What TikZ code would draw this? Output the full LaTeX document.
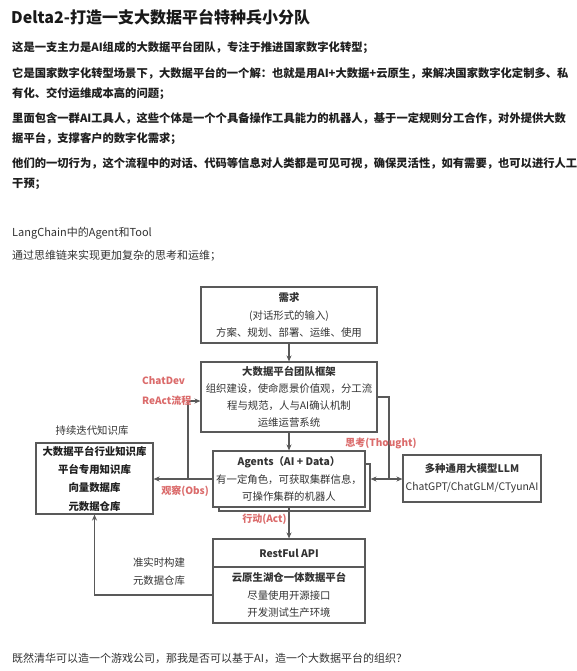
\documentclass[tikz,border=0pt]{standalone}
\usepackage{fontspec}
\setmainfont{Noto Sans CJK SC}
\usetikzlibrary{arrows.meta}
\definecolor{flowred}{HTML}{DB6B6B}
\definecolor{linegray}{HTML}{595959}
\definecolor{inkgray}{HTML}{333333}

\begin{document}
\begin{tikzpicture}[x=1pt,y=-1pt,
    line/.style={draw=linegray,line width=1.1pt},
    arr/.style={line,-{Stealth[length=6pt,width=5pt]}},
    box/.style={draw=linegray,line width=1.1pt,fill=white,inner sep=0pt,
      align=center,text=inkgray,font=\fontsize{10.4}{17.5}\selectfont},
    para/.style={anchor=west,inner sep=0pt,text=black!88,
      font=\fontsize{11.3}{13}\selectfont\bfseries},
    plain/.style={anchor=west,inner sep=0pt,text=inkgray,
      font=\fontsize{11}{13}\selectfont},
    tag/.style={inner sep=0pt,text=flowred,font=\fontsize{10}{12}\selectfont\bfseries},
    note/.style={inner sep=0pt,text=inkgray,font=\fontsize{10.4}{12}\selectfont}]
  \useasboundingbox[fill=white] (0,0) rectangle (576,671);

  % text above the diagram
  \node[para,font=\fontsize{16}{18}\selectfont\bfseries,text=black!90] (title) at (11,17)
    {Delta2-打造一支大数据平台特种兵小分队};
  \node[para] (p1) at (12,48) {这是一支主力是AI组成的大数据平台团队，专注于推进国家数字化转型；};
  \node[para] (p2a) at (12,73) {它是国家数字化转型场景下，大数据平台的一个解：也就是用AI+大数据+云原生，来解决国家数字化定制多、私};
  \node[para] (p2b) at (12,94) {有化、交付运维成本高的问题；};
  \node[para] (p3a) at (12,118) {里面包含一群AI工具人，这些个体是一个个具备操作工具能力的机器人，基于一定规则分工合作，对外提供大数};
  \node[para] (p3b) at (12,139) {据平台，支撑客户的数字化需求；};
  \node[para] (p4a) at (12,163) {他们的一切行为，这个流程中的对话、代码等信息对人类都是可见可视，确保灵活性，如有需要，也可以进行人工};
  \node[para] (p4b) at (12,184) {干预；};
  \node[plain] (lang) at (12,233) {LangChain中的Agent和Tool};
  \node[plain] (cot) at (12,256) {通过思维链来实现更加复杂的思考和运维；};

  % boxes
  \node[box,minimum width=176pt,minimum height=56pt] (need) at (289,315)
    {\textbf{需求}\\(对话形式的输入)\\方案、规划、部署、运维、使用};
  \node[box,minimum width=176pt,minimum height=70pt,font=\fontsize{10.4}{17}\selectfont] (frame) at (289,397)
    {\textbf{大数据平台团队框架}\\组织建设，使命愿景价值观，分工流\\程与规范，人与AI确认机制\\运维运营系统};
  \node[box,minimum width=151pt,minimum height=47pt] (shadow) at (294.5,487.5) {};
  \node[box,minimum width=152pt,minimum height=56pt] (agents) at (289,479)
    {\textbf{Agents（AI + Data）}\\有一定角色，可获取集群信息，\\可操作集群的机器人};
  \node[box,minimum width=138pt,minimum height=47pt,font=\fontsize{10.4}{18}\selectfont] (llm) at (472,478.5)
    {\textbf{多种通用大模型LLM}\\ChatGPT/ChatGLM/CTyunAI};
  \node[box,minimum width=117pt,minimum height=71pt,font=\fontsize{10.4}{18.3}\selectfont\bfseries,text=black!88] (kb) at (94.5,478.5)
    {大数据平台行业知识库\\平台专用知识库\\向量数据库\\元数据仓库};
  \node[box,minimum width=152pt,minimum height=28pt] (api) at (289,553) {\textbf{RestFul API}};
  \node[box,minimum width=152pt,minimum height=56pt] (platform) at (289,595)
    {\textbf{云原生湖仓一体数据平台}\\尽量使用开源接口\\开发测试生产环境};

  % connectors
  \coordinate (react) at (188,479);
  \coordinate (think) at (389,479);
  \draw[arr] (need) -- (frame);
  \draw[arr] (frame) -- (agents);
  \draw[arr] (agents) -- (api);
  \draw[arr] (agents.west) -- (agents.west -| kb.east);
  \draw[arr] (react) |- ([yshift=-4pt]frame.west);
  \draw[line] (frame.east) -| (think);
  \draw[arr] (think) -- (think -| llm.west);
  \draw[arr] (think) -- (think -| shadow.east);
  \draw[arr] (platform.west) -| (kb.south);

  % labels
  \node[tag,anchor=west] (chatdev) at (142,381) {ChatDev};
  \node[tag,anchor=west] (reactlbl) at (142,401) {ReAct流程};
  \node[tag] (thought) at (381,443) {思考(Thought)};
  \node[tag] (obs) at (185,491) {观察(Obs)};
  \node[tag] (act) at (264.5,519) {行动(Act)};
  \node[note] (kbtitle) at (92,431) {持续迭代知识库};
  \node[note] (build1) at (159,563) {准实时构建};
  \node[note] (build2) at (159,581) {元数据仓库};

  \node[plain] (ending) at (12,658) {既然清华可以造一个游戏公司，那我是否可以基于AI，造一个大数据平台的组织？};
\end{tikzpicture}
\end{document}
